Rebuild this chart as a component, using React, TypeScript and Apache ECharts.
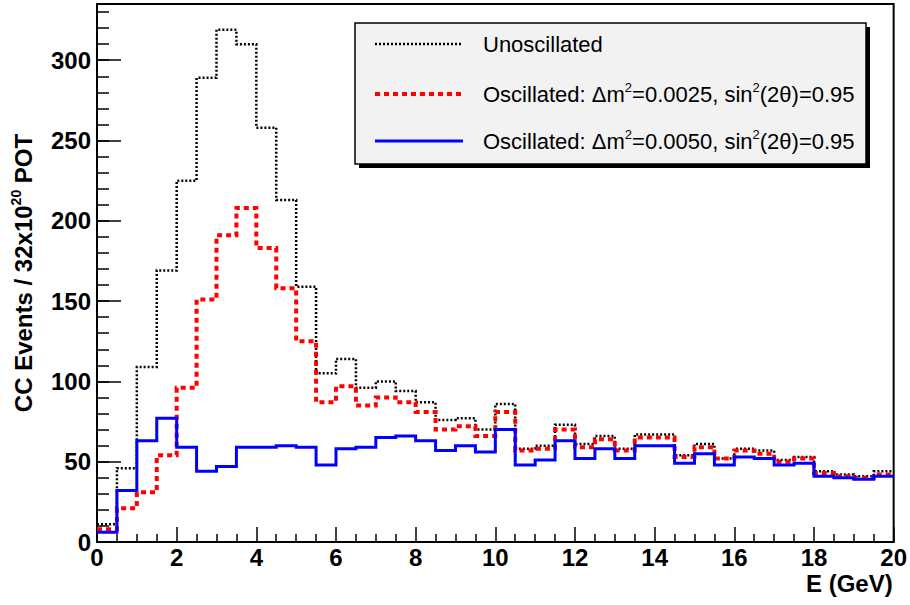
import React, { useEffect, useRef } from "react";
import * as echarts from "echarts";

// 0.5 GeV bins from 0 to 20 GeV
const BIN_WIDTH = 0.5;
const X_MIN = 0;
const X_MAX = 20;
const Y_MAX = 335;

const unoscillated = [
  11, 46, 109, 169, 225, 289, 319, 310, 258, 213,
  159, 105, 114, 96, 100, 94, 87, 76, 77, 70,
  86, 58, 60, 73, 61, 66, 58, 67, 67, 54,
  61, 52, 58, 57, 51, 53, 44, 42, 41, 44,
];

const oscillated0025 = [
  8, 21, 31, 54, 96, 151, 191, 208, 183, 158,
  125, 87, 97, 85, 90, 87, 81, 70, 72, 66,
  81, 57, 58, 70, 59, 64, 57, 65, 65, 53,
  59, 52, 57, 55, 50, 52, 43, 41, 40, 42,
];

const oscillated0050 = [
  6, 32, 63, 77, 59, 44, 47, 59, 59, 60,
  59, 48, 58, 59, 65, 66, 63, 57, 60, 56,
  70, 48, 51, 63, 52, 58, 52, 60, 60, 49,
  55, 48, 53, 52, 48, 49, 41, 40, 39, 41,
];

const legendLabels = [
  "Unoscillated",
  "Oscillated: Δm{sup|2}=0.0025, sin{sup|2}(2θ)=0.95",
  "Oscillated: Δm{sup|2}=0.0050, sin{sup|2}(2θ)=0.95",
];

const FONT = "'Liberation Sans', Arial, Helvetica, sans-serif";

// Step outline of a histogram: one point per lower bin edge plus the last upper edge
function histPoints(values: number[]): [number, number][] {
  const pts: [number, number][] = values.map((v, i) => [X_MIN + i * BIN_WIDTH, v]);
  pts.push([X_MIN + values.length * BIN_WIDTH, values[values.length - 1]]);
  return pts;
}

const lineStyles = [
  { color: "#000000", width: 2.5, type: [2, 2] as number[] },
  { color: "#ff0000", width: 4, type: [5, 4] as number[] },
  { color: "#0000ff", width: 3, type: "solid" as any },
];

export default function App() {
  const ref = useRef<HTMLDivElement>(null);

  useEffect(() => {
    if (!ref.current) return;
    const chart = echarts.init(ref.current, undefined, { renderer: "svg" });

    const supRich = {
      sup: {
        fontSize: 13,
        fontFamily: FONT,
        color: "#000",
        verticalAlign: "top" as const,
        lineHeight: 13,
      },
    };

    const legendTop = 23;
    const legendLeft = 355;
    const legendW = 511;
    const legendH = 141;
    const rowY = [44, 94, 141];

    const legendChildren: any[] = [
      {
        type: "rect",
        shape: { x: legendLeft + 4, y: legendTop + 4, width: legendW, height: legendH },
        style: { fill: "#000" },
      },
      {
        type: "rect",
        shape: { x: legendLeft, y: legendTop, width: legendW, height: legendH },
        style: { fill: "#f2f2f2", stroke: "#000", lineWidth: 1.5 },
      },
    ];
    legendLabels.forEach((label, i) => {
      const ls = lineStyles[i];
      legendChildren.push({
        type: "line",
        shape: { x1: 375, y1: rowY[i], x2: 463, y2: rowY[i] },
        style: {
          stroke: ls.color,
          lineWidth: ls.width,
          lineDash: Array.isArray(ls.type) ? ls.type : null,
        },
      });
      legendChildren.push({
        type: "text",
        x: 483,
        y: rowY[i],
        style: {
          text: label,
          fontSize: 22,
          fontFamily: FONT,
          fill: "#000",
          verticalAlign: "middle",
          align: "left",
          lineHeight: 26,
          rich: supRich,
        },
      });
    });

    const seriesData = [unoscillated, oscillated0025, oscillated0050];

    chart.setOption({
      animation: false,
      backgroundColor: "#ffffff",
      grid: {
        left: 97,
        right: 16,
        top: 4,
        bottom: 63,
        show: true,
        borderColor: "#000",
        borderWidth: 2,
        backgroundColor: "transparent",
      },
      xAxis: {
        type: "value",
        min: X_MIN,
        max: X_MAX,
        interval: 2,
        name: "E (GeV)",
        nameLocation: "end",
        nameGap: -1,
        nameTextStyle: {
          fontFamily: FONT,
          fontWeight: "bold",
          fontSize: 24,
          color: "#000",
          align: "right",
          verticalAlign: "top",
          padding: [29, 0, 0, 0],
        },
        axisLine: { show: true, lineStyle: { color: "#000", width: 2 } },
        axisTick: { show: true, inside: true, length: 15, lineStyle: { color: "#000", width: 1.5 } },
        minorTick: { show: true, splitNumber: 4, length: 8, lineStyle: { color: "#000", width: 1.5 } },
        axisLabel: {
          fontFamily: FONT,
          fontWeight: "bold",
          fontSize: 24,
          color: "#000",
          margin: 3,
        },
        splitLine: { show: false },
        minorSplitLine: { show: false },
      },
      yAxis: [
        {
          type: "value",
          min: 0,
          max: Y_MAX,
          interval: 50,
          name: "CC Events / 32x10{sup|20} POT",
          nameLocation: "middle",
          nameRotate: 90,
          nameGap: 60,
          nameTextStyle: {
            fontFamily: FONT,
            fontWeight: "bold",
            fontSize: 24,
            color: "#000",
            lineHeight: 28,
            rich: {
              sup: {
                fontFamily: FONT,
                fontWeight: "bold",
                fontSize: 14,
                color: "#000",
                verticalAlign: "top",
                lineHeight: 14,
              },
            },
          },
          axisLine: { show: true, lineStyle: { color: "#000", width: 2 } },
          axisTick: { show: true, inside: true, length: 24, lineStyle: { color: "#000", width: 1.5 } },
          axisLabel: {
            fontFamily: FONT,
            fontWeight: "bold",
            fontSize: 24,
            color: "#000",
            margin: 6,
            showMaxLabel: false,
          },
          splitLine: { show: false },
        },
        {
          type: "value",
          min: 0,
          max: Y_MAX,
          interval: 10,
          position: "left",
          axisLine: { show: false },
          axisTick: { show: true, inside: true, length: 12, lineStyle: { color: "#000", width: 1.5 } },
          axisLabel: { show: false },
          splitLine: { show: false },
        },
      ],
      series: seriesData.map((vals, i) => ({
        type: "line",
        step: "end",
        yAxisIndex: 0,
        showSymbol: false,
        silent: true,
        data: histPoints(vals),
        lineStyle: {
          color: lineStyles[i].color,
          width: lineStyles[i].width,
          type: lineStyles[i].type,
          cap: "butt",
          join: "miter",
        },
        z: 2 + i,
      })),
      graphic: [{ type: "group", children: legendChildren, z: 100 }],
    });

    return () => chart.dispose();
  }, []);

  return (
    <div
      ref={ref}
      style={{ position: "fixed", left: 0, top: 0, width: 910, height: 605, background: "#fff" }}
    />
  );
}
